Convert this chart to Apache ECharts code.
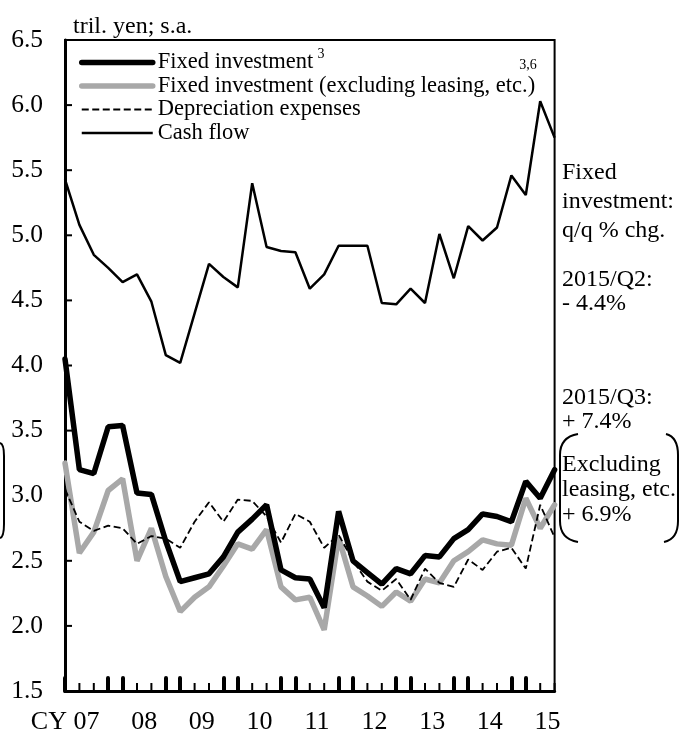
<!DOCTYPE html>
<html>
<head>
<meta charset="utf-8">
<script src="https://cdn.jsdelivr.net/npm/echarts@6/dist/echarts.min.js"></script>
<style>
html,body{margin:0;padding:0;background:#fff;}
#chart{width:679px;height:733px;}
</style>
</head>
<body>
<div id="chart"></div>
<script>
// ---- data (tril. yen, s.a., quarterly 2007Q1 - 2015Q3) ----
const years = ['07','08','09','10','11','12','13','14','15'];
const yearTickLabels = ['CY 07','08','09','10','11','12','13','14','15'];
const yTickValues = [1.5,2.0,2.5,3.0,3.5,4.0,4.5,5.0,5.5,6.0,6.5];

const fixedInv = [4.05,3.20,3.17,3.53,3.54,3.02,3.01,2.65,2.34,2.37,2.40,2.53,2.72,2.82,2.93,2.43,2.37,2.36,2.14,2.88,2.50,2.41,2.32,2.44,2.40,2.54,2.53,2.67,2.74,2.86,2.84,2.80,3.11,2.98,3.20];
const fixedExLeasing = [3.25,2.56,2.72,3.04,3.13,2.50,2.75,2.38,2.11,2.22,2.30,2.46,2.63,2.59,2.74,2.30,2.20,2.22,1.97,2.68,2.30,2.23,2.15,2.26,2.19,2.36,2.33,2.50,2.57,2.66,2.63,2.62,2.98,2.75,2.93];
const depreciation = [3.05,2.80,2.73,2.77,2.75,2.63,2.69,2.67,2.60,2.80,2.95,2.80,2.97,2.96,2.84,2.64,2.86,2.80,2.60,2.70,2.50,2.34,2.27,2.36,2.20,2.44,2.33,2.30,2.51,2.43,2.57,2.60,2.44,2.93,2.68];
const cashFlow = [5.43,5.08,4.85,4.75,4.64,4.70,4.49,4.08,4.02,4.40,4.78,4.68,4.60,5.40,4.91,4.88,4.87,4.59,4.70,4.92,4.92,4.92,4.48,4.47,4.59,4.48,5.01,4.67,5.07,4.96,5.06,5.46,5.31,6.03,5.75];

const seriesNames = ['Fixed investment','Fixed investment (excluding leasing, etc.)','Depreciation expenses','Cash flow'];
const unitLabel = 'tril. yen; s.a.';
const noteLines = [
  {t:'Fixed', y:173},{t:'investment:', y:202},{t:'q/q % chg.', y:231},
  {t:'2015/Q2:', y:280},{t:'- 4.4%', y:304},
  {t:'2015/Q3:', y:398},{t:'+ 7.4%', y:422},
  {t:'Excluding', y:465},{t:'leasing, etc.', y:490},{t:'+ 6.9%', y:515}
];

// ---- categories ----
const quarters = [];
years.forEach(y => { for (let q = 1; q <= 4; q++) quarters.push('20' + y + 'Q' + q); });
quarters.length = fixedInv.length;
const halfSteps = [];
for (let k = 0; k < quarters.length * 2 - 1; k++) {
  halfSteps.push(k % 2 === 0 ? quarters[k / 2] : quarters[(k - 1) / 2] + '+');
}

const SERIF = "'Liberation Serif','Times New Roman',serif";
const chart = echarts.init(document.getElementById('chart'));

const graphics = [];
noteLines.forEach(n => graphics.push({
  type:'text', x:562, y:n.y,
  style:{text:n.t, font:'24px ' + SERIF, fill:'#000', textVerticalAlign:'middle', verticalAlign:'middle', textAlign:'left', align:'left'}
}));
graphics.push({type:'text', x:321, y:54, style:{text:'3', font:'14px ' + SERIF, fill:'#000', textAlign:'center', align:'center', textVerticalAlign:'middle', verticalAlign:'middle'}});
graphics.push({type:'text', x:528, y:65, style:{text:'3,6', font:'14px ' + SERIF, fill:'#000', textAlign:'center', align:'center', textVerticalAlign:'middle', verticalAlign:'middle'}});
const br = {stroke:'#000', lineWidth:2, fill:null};
// bracket around "Excluding leasing"
graphics.push({type:'bezierCurve', shape:{x1:578,y1:434,cpx1:560,cpy1:437,x2:560,y2:455}, style:br});
graphics.push({type:'line', shape:{x1:560,y1:455,x2:560,y2:521}, style:br});
graphics.push({type:'bezierCurve', shape:{x1:560,y1:521,cpx1:560,cpy1:539,x2:578,y2:542}, style:br});
graphics.push({type:'bezierCurve', shape:{x1:666,y1:434,cpx1:678,cpy1:437,x2:678,y2:455}, style:br});
graphics.push({type:'line', shape:{x1:678,y1:455,x2:678,y2:521}, style:br});
graphics.push({type:'bezierCurve', shape:{x1:678,y1:521,cpx1:678,cpy1:539,x2:664,y2:542}, style:br});
// partial bracket at the left edge
graphics.push({type:'bezierCurve', shape:{x1:0,y1:443,cpx1:4,cpy1:444,x2:4,y2:456}, style:br});
graphics.push({type:'line', shape:{x1:4,y1:456,x2:4,y2:524}, style:br});
graphics.push({type:'bezierCurve', shape:{x1:4,y1:524,cpx1:4,cpy1:537,x2:0,y2:538}, style:br});

const axisLineStyle = {show:true, lineStyle:{color:'#000', width:3}};
const option = {
  animation:false,
  backgroundColor:'#fff',
  textStyle:{fontFamily:SERIF},
  title:{text:unitLabel, left:73, top:15, padding:0,
    textStyle:{fontSize:24, fontWeight:'normal', color:'#000', fontFamily:SERIF}},
  legend:{orient:'vertical', left:79, top:51, padding:0, itemWidth:71, itemHeight:14, itemGap:0.5,
    data:seriesNames,
    itemStyle:{opacity:0},
    lineStyle:{width:'inherit'},
    textStyle:{fontSize:22.5, lineHeight:22, color:'#000', fontFamily:SERIF}},
  grid:{left:65, right:124.4, top:40, bottom:42, outerBoundsMode:'none', containLabel:false,
    show:true, borderColor:'#000', borderWidth:2, backgroundColor:'transparent'},
  xAxis:[
    {type:'category', data:quarters, boundaryGap:false, position:'bottom',
      axisLine:{show:false}, axisTick:{show:false},
      axisLabel:{show:false}, splitLine:{show:false}},
    {type:'category', data:quarters, boundaryGap:false, position:'bottom',
      axisLine:{show:false},
      axisTick:{show:true, inside:true, length:13, interval:(i) => (i % 4 === 0 || i % 4 === 3), lineStyle:{color:'#000', width:4, cap:'round'}},
      axisLabel:{show:false}, splitLine:{show:false}},
    {type:'category', data:halfSteps, boundaryGap:false, position:'bottom',
      axisLine:axisLineStyle, axisTick:{show:false}, splitLine:{show:false},
      axisLabel:{show:true, color:'#000', fontSize:26, fontFamily:SERIF, margin:18,
        interval:(i) => (i >= 3 && (i - 3) % 8 === 0),
        formatter:(v, i) => {
          const j = Math.round((i - 3) / 8);
          const s = yearTickLabels[j] || '';
          return j === 0 ? s + '{pad|\u00a0}' : s;
        },
        rich:{pad:{width:43, fontSize:26}}}}
  ],
  yAxis:[
    {type:'value', min:1.5, max:6.5, interval:0.5, position:'left',
      axisLine:{show:false}, axisTick:{show:false},
      splitLine:{show:false},
      axisLabel:{color:'#000', fontSize:25.5, fontFamily:SERIF, margin:22, formatter:(v) => v.toFixed(1)}},
    {type:'value', min:1.5, max:6.5, interval:0.5, position:'left',
      axisLine:axisLineStyle, axisTick:{show:false}, axisLabel:{show:false}, splitLine:{show:false}}
  ],
  series:[
    // quarter tick marks on the x axis (every quarter), drawn through the axis scale
    {type:'custom', name:'qticks', xAxisIndex:0, yAxisIndex:0, silent:true, clip:false, z:2,
      data:quarters.map((q, i) => [i, yTickValues[0]]),
      renderItem:(params, api) => {
        const p = api.coord([api.value(0), api.value(1)]);
        return {type:'line', shape:{x1:p[0], y1:p[1], x2:p[0], y2:p[1] - 8}, style:{stroke:'#000', lineWidth:2}};
      }},
    // value tick marks on the y axis
    {type:'custom', name:'yticks', xAxisIndex:0, yAxisIndex:0, silent:true, clip:false, z:2,
      data:yTickValues.map(v => [0, v]),
      renderItem:(params, api) => {
        const p = api.coord([api.value(0), api.value(1)]);
        return {type:'line', shape:{x1:p[0], y1:p[1], x2:p[0] + 7, y2:p[1]}, style:{stroke:'#000', lineWidth:2}};
      }},
    {name:seriesNames[0], type:'line', data:fixedInv, symbol:'none', z:6,
      lineStyle:{color:'#000', width:5.5, cap:'round'}, itemStyle:{color:'#000'}},
    {name:seriesNames[1], type:'line', data:fixedExLeasing, symbol:'none', z:3,
      lineStyle:{color:'#a8a8a8', width:5.5, cap:'round'}, itemStyle:{color:'#a8a8a8'}},
    {name:seriesNames[2], type:'line', data:depreciation, symbol:'none', z:4,
      lineStyle:{color:'#000', width:1.8, type:[7,3.5]}, itemStyle:{color:'#000'}},
    {name:seriesNames[3], type:'line', data:cashFlow, symbol:'none', z:5,
      lineStyle:{color:'#000', width:2.5}, itemStyle:{color:'#000'}}
  ],
  graphic:graphics
};
chart.setOption(option);
</script>
</body>
</html>
